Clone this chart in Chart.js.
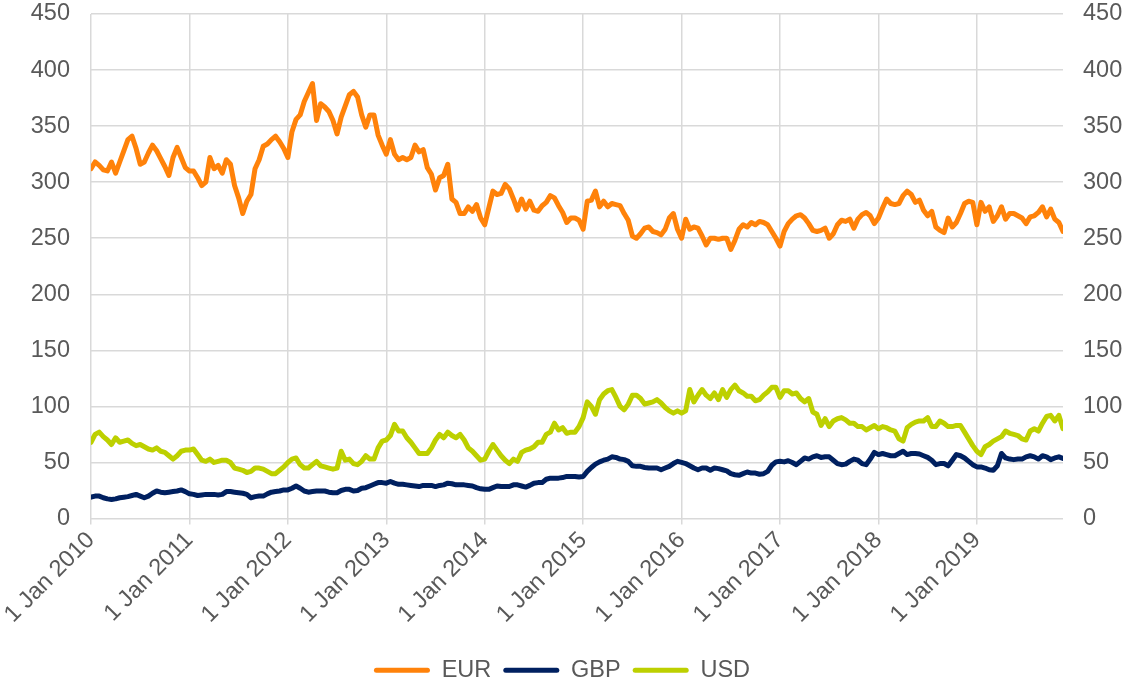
<!DOCTYPE html>
<html>
<head>
<meta charset="utf-8">
<script src="https://cdn.jsdelivr.net/npm/chart.js@4.4.1/dist/chart.umd.min.js"></script>
<style>
  html, body { margin: 0; padding: 0; background: #ffffff; }
  #wrap { width: 1124px; height: 684px; }
</style>
</head>
<body>
<div id="wrap"><canvas id="c" width="1124" height="684"></canvas></div>
<script>
// Semi-monthly observations starting 1 Jan 2010
const START_YEAR = 2010;
const STEPS_PER_YEAR = 24;
const TICK_YEARS = [2010, 2011, 2012, 2013, 2014, 2015, 2016, 2017, 2018, 2019];
const Y_TICKS = [0, 50, 100, 150, 200, 250, 300, 350, 400, 450];

const EUR = [
  312,318,315,311,310,318,308,318,328,338,341,330,316,318,326,333,328,321,314,306,322,331,322,313,
  310,310,304,297,300,322,312,315,308,320,316,297,286,272,283,289,312,320,332,334,338,341,336,330,
  322,345,356,360,372,380,388,355,370,367,363,355,343,358,368,378,381,376,360,349,360,360,342,333,
  325,338,325,320,322,320,322,333,327,329,313,307,293,304,306,316,285,282,272,272,278,274,280,268,
  262,277,292,289,290,298,294,285,275,285,276,283,275,274,279,282,288,286,279,273,264,268,268,266,
  258,283,284,292,278,283,278,281,280,279,272,266,252,250,254,259,260,256,255,253,258,268,272,258,
  250,267,258,260,259,252,244,250,250,249,250,250,240,248,258,262,260,264,262,265,264,262,256,250,
  243,256,263,267,270,271,268,263,257,256,257,259,250,254,262,266,265,267,259,267,271,273,270,263,
  268,277,285,281,280,281,288,292,289,282,284,275,270,274,260,257,255,268,260,264,272,281,283,282,
  262,282,274,278,265,270,278,267,272,272,270,268,263,269,270,273,278,269,276,267,264,256
];

const GBP = [
  19,20,20,18.5,17.5,17,17.5,18.5,19,19.5,20.5,21.5,20,18.5,20,22.5,24.5,23.5,23,23.5,24,24.5,25.5,24,
  22,21.5,20.5,21,21.5,21.5,21.5,21,21.5,24,24,23.5,23,22.5,21.5,18.5,19.5,20,20,22,23.5,24,24.5,25.5,
  25.5,27,29,27,24.5,23.5,24,24.5,24.5,24.5,23.5,23,23,25,26,26,24.5,25,27,27.5,29,30.5,32,32,
  31.5,33,31.5,30.5,30.5,30,29.5,29,28.5,29.5,29.5,29.5,28.5,29.5,30,31.5,31,30,30,30,29.5,29,27.5,26.5,
  26,26,27.5,29,28.5,28.5,28.5,30,30,29,28,29.5,31.5,32,32,35,36,36,36,36.5,37.5,37.5,37.5,37,
  37.5,42,45.5,48.5,50.5,52,53,55,54.5,53,52.5,51,47,46.5,46.5,45.5,45,45,45,43.5,45,46.5,49,51,
  50,49,47,45,43.5,45,45,43,45,44.5,43.5,42.5,40,39,38.5,40,41.5,40.5,40.5,39.5,40,42,47.5,50.5,
  51,50.5,51.5,50,48,51,54,53,55,56,54.5,55,55,52,49,48,48.5,51,53,52,49,48,53,59,
  57,58,57,56,56,58,60,57,58,58,57.5,56,54.5,52,48,49,49,47,52,57,56,54,51,48,
  46,46,45,43.5,43,47,58,54,53,52.5,53,53,55,56,55,53,56,55,52.5,54,55,53.5
];

const USD = [
  68,75,77,73,70,66,72,68,69,70,67,65,66,64,62,61,63,60,59,56,53,56,60,61,
  61,62,57,52,51,53,50,51,52,52,50,45,44,43,41,42,45,45,44,42,40,40,43,46,
  50,53,54,48,45,45,48,51,47,46,45,44,45,60,52,53,49,48,51,56,53,53,63,69,
  70,74,84,78,78,72,68,63,58,58,58,63,70,75,72,77,74,72,75,70,63,60,56,52,
  53,60,66,61,56,52,49,53,51,59,61,62,64,68,68,75,77,85,79,81,76,77,77,82,
  90,104,100,93,106,111,114,115,108,100,97,102,110,110,107,102,103,104,106,103,99,96,94,96,
  94,96,115,104,110,115,110,107,112,106,115,108,115,119,114,112,109,109,105,106,110,113,117,117,
  108,114,114,111,112,107,104,107,95,93,83,89,82,87,89,90,88,85,85,82,82,79,81,83,
  80,82,81,79,78,71,69,81,84,86,87,87,90,82,82,87,85,82,82,83,83,77,71,65,
  60,57,64,66,69,71,73,78,76,75,74,71,70,78,80,78,85,91,92,87,92,80
];

const SERIES_NAMES = ['EUR', 'GBP', 'USD'];
const SERIES_COLORS = ['#FF820A', '#002060', '#BDD000'];

function toPoints(values) {
  return values.map((v, i) => ({ x: START_YEAR + i / STEPS_PER_YEAR, y: v }));
}
const LAST_X = START_YEAR + (EUR.length - 1) / STEPS_PER_YEAR;

const FONT = { family: "'Liberation Sans', Arial, sans-serif", size: 23.5 };
const TEXT_COLOR = '#595959';
const GRID_COLOR = '#d9d9d9';

const datasets = [EUR, GBP, USD].map((vals, i) => ({
  label: SERIES_NAMES[i],
  data: toPoints(vals),
  borderColor: SERIES_COLORS[i],
  backgroundColor: SERIES_COLORS[i],
  borderWidth: 5,
  pointRadius: 0,
  tension: 0,
  borderJoinStyle: 'round',
  borderCapStyle: 'round',
  fill: false
}));

function fixY(width) {
  return (scale) => {
    scale.width = width;
    scale.paddingTop = 0;
    scale.paddingBottom = 0;
  };
}

new Chart(document.getElementById('c'), {
  type: 'line',
  data: { datasets },
  options: {
    responsive: false,
    animation: false,
    layout: { padding: { top: 14, left: 0, right: 0, bottom: -8 } },
    plugins: {
      tooltip: { enabled: false },
      legend: {
        position: 'bottom',
        labels: {
          font: FONT,
          color: TEXT_COLOR,
          boxWidth: 56,
          boxHeight: 5,
          padding: 12,
          generateLabels: (chart) => chart.data.datasets.map((ds, i) => ({
            text: ds.label,
            fillStyle: ds.borderColor,
            strokeStyle: ds.borderColor,
            lineWidth: 0,
            borderRadius: 2.5,
            hidden: false,
            datasetIndex: i,
            fontColor: TEXT_COLOR
          }))
        }
      }
    },
    scales: {
      x: {
        type: 'linear',
        min: START_YEAR,
        max: LAST_X,
        afterBuildTicks: (scale) => { scale.ticks = TICK_YEARS.map(v => ({ value: v })); },
        afterFit: (scale) => { scale.height = 128; },
        grid: { color: GRID_COLOR, lineWidth: 1.5, drawTicks: true, tickLength: 6 },
        border: { display: false },
        ticks: {
          font: FONT,
          color: TEXT_COLOR,
          maxRotation: 45,
          minRotation: 45,
          padding: 2,
          autoSkip: false,
          callback: (v) => '1 Jan ' + v
        }
      },
      y: {
        position: 'left',
        min: 0,
        max: 450,
        afterBuildTicks: (scale) => { scale.ticks = Y_TICKS.map(v => ({ value: v })); },
        afterFit: fixY(91),
        grid: { color: GRID_COLOR, lineWidth: 1.5, drawTicks: false },
        border: { display: false },
        ticks: { font: FONT, color: TEXT_COLOR, padding: 21 }
      },
      y2: {
        position: 'right',
        min: 0,
        max: 450,
        afterBuildTicks: (scale) => { scale.ticks = Y_TICKS.map(v => ({ value: v })); },
        afterFit: fixY(61),
        grid: { display: false, drawTicks: false },
        border: { display: false },
        ticks: { font: FONT, color: TEXT_COLOR, padding: 20 }
      }
    }
  }
});
</script>
</body>
</html>
